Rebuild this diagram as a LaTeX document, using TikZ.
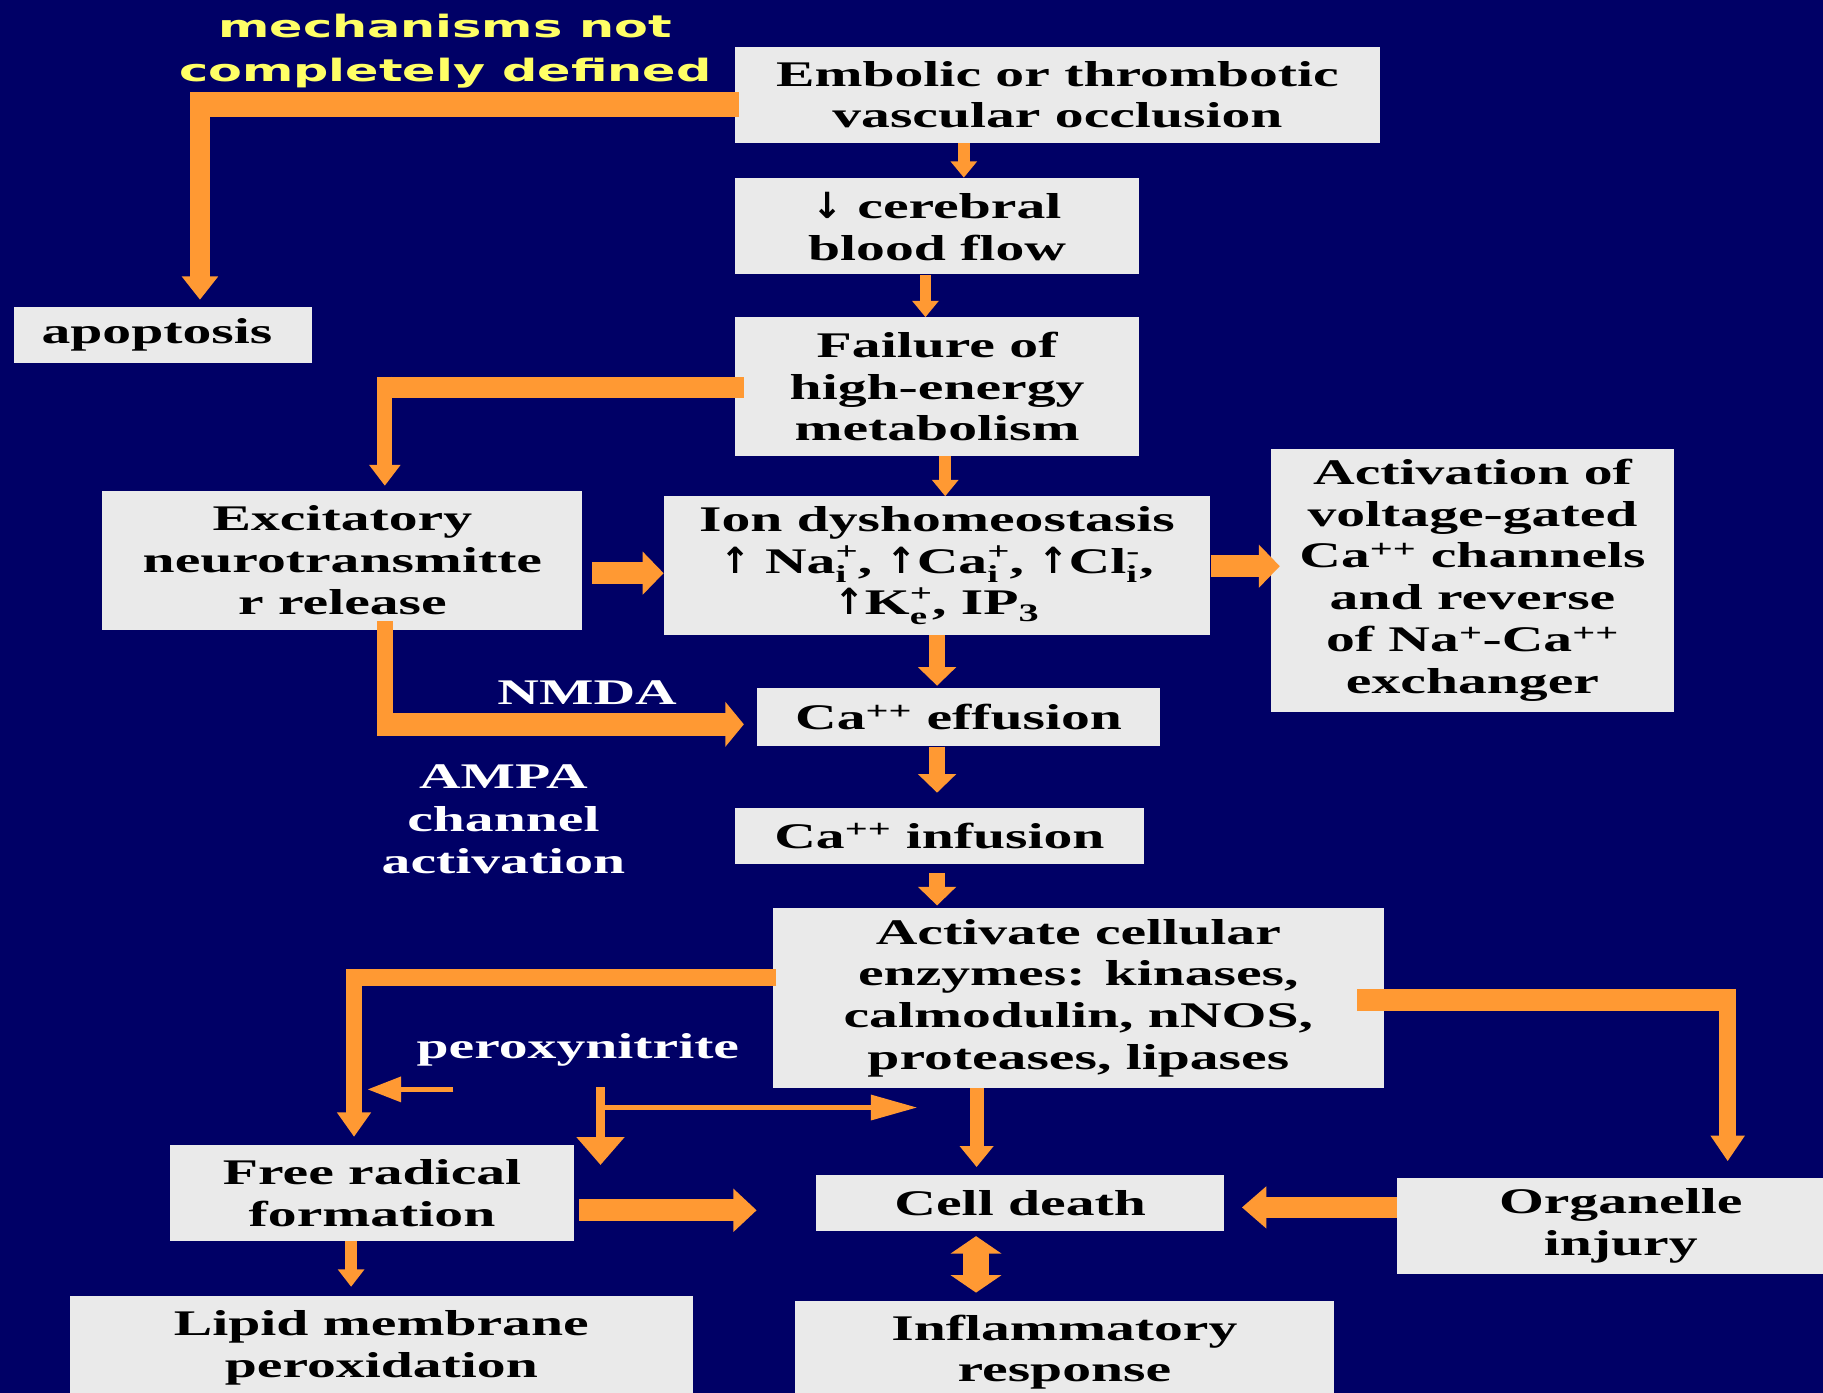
\documentclass[tikz,border=0pt]{standalone}
\usepackage{fontspec}
\usetikzlibrary{arrows.meta}
\newfontfamily\bx{Liberation Serif}[FakeStretch=1.6]
\newfontfamily\ys{DejaVu Sans}[FakeStretch=1.6]
\newfontfamily\arr{DejaVu Sans}
\definecolor{bg}{RGB}{0,0,102}
\definecolor{boxgray}{RGB}{234,234,234}
\definecolor{orng}{RGB}{255,153,51}
\definecolor{yel}{RGB}{255,255,102}
\newcommand\ionss[2]{\makebox[0pt][l]{\raisebox{-0.6ex}{\fontsize{21}{21}\selectfont #1}}\raisebox{0.8ex}{\fontsize{21}{21}\selectfont #2}}
\newcommand\up{{\arr\bfseries ↑}}
\newcommand\dn{{\arr\bfseries ↓}}
\tikzset{
  box/.style={fill=boxgray, inner sep=0pt, align=center, text=black,
    font=\bx\bfseries\fontsize{31}{36}\selectfont},
  wl/.style={text=white, inner sep=0pt, align=center,
    font=\bx\bfseries\fontsize{31}{36.5}\selectfont},
  ytext/.style={text=yel, inner sep=0pt, align=center,
    font=\ys\bfseries\fontsize{26.5}{38}\selectfont},
  ob/.style={draw=orng, line join=miter, line cap=butt},
}
\begin{document}
\begin{tikzpicture}[x=1pt,y=-1pt]
\fill[bg] (0,0) rectangle (1568,1198);
\useasboundingbox (0,0) rectangle (1568,1198);

% boxes
\node[box, minimum width=555pt, minimum height=83pt] (emb) at (909.5,81.5) {Embolic or thrombotic\\vascular occlusion};
\node[box, minimum width=348pt, minimum height=83pt] (cbf) at (806,194.5) {\dn\ cerebral\\blood flow};
\node[box, minimum width=348pt, minimum height=119pt] (fail) at (806,332.5) {Failure of\\high-energy\\metabolism};
\node[box, minimum width=256pt, minimum height=48pt] (apo) at (140,288) {apoptosis\hspace{10pt}};
\node[box, minimum width=413pt, minimum height=120pt] (exc) at (294.5,482) {Excitatory\\neurotransmitte\\r release};
\node[box, minimum width=470pt, minimum height=119pt] (ion) at (806,486.5) {Ion dyshomeostasis\\\up\ Na\ionss{i}{+}, \up Ca\ionss{i}{+}, \up Cl\ionss{i}{-},\\\up K\ionss{e}{+}, IP\textsubscript{3}};
\node[box, minimum width=347pt, minimum height=226pt] (act) at (1266.5,499) {Activation of\\voltage-gated\\Ca\textsuperscript{++} channels\\and reverse\\of Na\textsuperscript{+}-Ca\textsuperscript{++}\\exchanger};
\node[box, minimum width=347pt, minimum height=50pt] (eff) at (824.5,617) {Ca\textsuperscript{++} effusion};
\node[box, minimum width=352pt, minimum height=48pt] (inf) at (808,719) {Ca\textsuperscript{++} infusion};
\node[box, minimum width=525pt, minimum height=155pt] (enz) at (927.5,858.5) {Activate cellular\\enzymes: kinases,\\calmodulin, nNOS,\\proteases, lipases};
\node[box, minimum width=348pt, minimum height=82pt] (frf) at (320,1026) {Free radical\\formation};
\node[box, minimum width=351pt, minimum height=48pt] (cd) at (877.5,1035) {Cell death};
\node[box, minimum width=366pt, minimum height=83pt] (org) at (1385,1054.5) {\hspace{18pt}Organelle\\\hspace{18pt}injury};
\node[box, minimum width=536pt, minimum height=88pt] (lip) at (328,1159) {Lipid membrane\\peroxidation};
\node[box, minimum width=463pt, minimum height=88pt] (infl) at (915.5,1163) {Inflammatory\\response};

% labels
\node[ytext] (mech) at (383,44) {mechanisms not\\completely defined};
\node[wl] (nmda) at (505,596) {NMDA};
\node[wl] (ampa) at (433,705) {AMPA\\channel\\activation};
\node[wl] (perox) at (497,903) {peroxynitrite};

% straight vertical arrows
\draw[ob, line width=10pt, -{Triangle[width=22pt,length=14pt]}] (829,0 |- emb.south) -- (829,0 |- cbf.north);
\draw[ob, line width=10pt, -{Triangle[width=22pt,length=14pt]}] (796,0 |- cbf.south) -- (796,0 |- fail.north);
\draw[ob, line width=10pt, -{Triangle[width=22pt,length=14pt]}] (813,0 |- fail.south) -- (813,0 |- ion.north);
\draw[ob, line width=14pt, -{Triangle[width=32pt,length=16pt]}, shorten >=2pt] (806,0 |- ion.south) -- (806,0 |- eff.north);
\draw[ob, line width=14pt, -{Triangle[width=32pt,length=16pt]}, shorten >=13pt] (806,0 |- eff.south) -- (806,0 |- inf.north);
\draw[ob, line width=14pt, -{Triangle[width=32pt,length=16pt]}, shorten <=8pt, shorten >=2pt] (806,0 |- inf.south) -- (806,0 |- enz.north);
\draw[ob, line width=12pt, -{Triangle[width=28pt,length=18pt]}, shorten >=7pt] (840,0 |- enz.south) -- (840,0 |- cd.north);
\draw[ob, line width=10pt, -{Triangle[width=22pt,length=15pt]}, shorten >=8pt] (302,0 |- frf.south) -- (302,0 |- lip.north);

% thick horizontal arrows
\draw[ob, line width=19pt, -{Triangle[width=36pt,length=18pt]}] ([shift={(8,11)}]exc.east) -- ([shift={(0,6.5)}]ion.west);
\draw[ob, line width=19pt, -{Triangle[width=36pt,length=18pt]}] ([shift={(0,0.5)}]ion.east) -- ([shift={(8,-12)}]act.west);
\draw[ob, line width=19pt, -{Triangle[width=36pt,length=20pt]}] ([shift={(4,15)}]frf.east) -- ([shift={(-51,6)}]cd.west);
\draw[ob, line width=18pt, -{Triangle[width=35pt,length=21pt]}] ([shift={(0,-16)}]org.west) -- ([shift={(15,3.5)}]cd.east);
\draw[ob, line width=22pt, {Triangle[width=43pt,length=15pt]}-{Triangle[width=43pt,length=15pt]}, shorten <=4pt, shorten >=7pt] (839.5,0 |- cd.south) -- (839.5,0 |- infl.north);

% elbow: emb -> apoptosis
\coordinate (a0) at ([shift={(4,8.5)}]emb.west);
\coordinate (a1) at ([xshift=32pt]apo.north);
\draw[ob, line width=21pt] (a0) -- (a0 -| a1) -- ++(-8.5,0);
\draw[ob, line width=17pt, -{Triangle[width=30pt,length=20pt]}, shorten >=6pt] (a0 -| a1) ++(0,-10.5) -- (a1);

% elbow: failure -> excitatory
\coordinate (d0) at ([shift={(8,0.5)}]fail.west);
\coordinate (d1) at ([shift={(36.5,-4)}]exc.north);
\draw[ob, line width=18pt] (d0) -- (d0 -| d1) -- ++(-6.5,0);
\draw[ob, line width=13pt, -{Triangle[width=26pt,length=18pt]}] (d0 -| d1) ++(0,-9) -- (d1);

% elbow: excitatory -> Ca effusion
\coordinate (i0) at ([shift={(36.5,-8)}]exc.south);
\coordinate (i1) at ([shift={(-11,6)}]eff.west);
\draw[ob, line width=14pt] (i0) -- (i0 |- i1) -- ++(0,10);
\draw[ob, line width=20pt, -{Triangle[width=38pt,length=16pt]}] (i0 |- i1) ++(-7,0) -- (i1);

% elbow: enzymes -> free radical
\coordinate (l0) at ([shift={(3,-17.5)}]enz.west);
\coordinate (l1) at ([shift={(-15.5,-7)}]frf.north);
\draw[ob, line width=15pt] (l0) -- (l0 -| l1) -- ++(-7,0);
\draw[ob, line width=14pt, -{Triangle[width=28pt,length=21pt]}] (l0 -| l1) ++(0,-7.5) -- (l1);

% elbow: enzymes -> organelle
\coordinate (p0) at ([shift={(-23,1.5)}]enz.east);
\coordinate (p1) at ([shift={(101,-14)}]org.north);
\draw[ob, line width=19pt] (p0) -- (p0 -| p1) -- ++(7.5,0);
\draw[ob, line width=15pt, -{Triangle[width=28pt,length=22pt]}] (p0 -| p1) ++(0,-9.5) -- (p1);

% peroxynitrite arrows
\coordinate (m0) at (390,937);
\coordinate (m1) at (316,937);
\draw[ob, line width=4.5pt, -{Triangle[width=21pt,length=29pt]}] (m0) -- (m1);
\coordinate (n0) at (516.5,935);
\coordinate (n1) at (516.5,1002);
\coordinate (n2) at (789,952.6);
\draw[ob, line width=8pt, -{Triangle[width=40pt,length=24pt]}] (n0) -- (n1);
\draw[ob, line width=4.5pt, -{Triangle[width=21pt,length=40pt]}] (n0 |- n2) -- (n2);
\end{tikzpicture}
\end{document}
